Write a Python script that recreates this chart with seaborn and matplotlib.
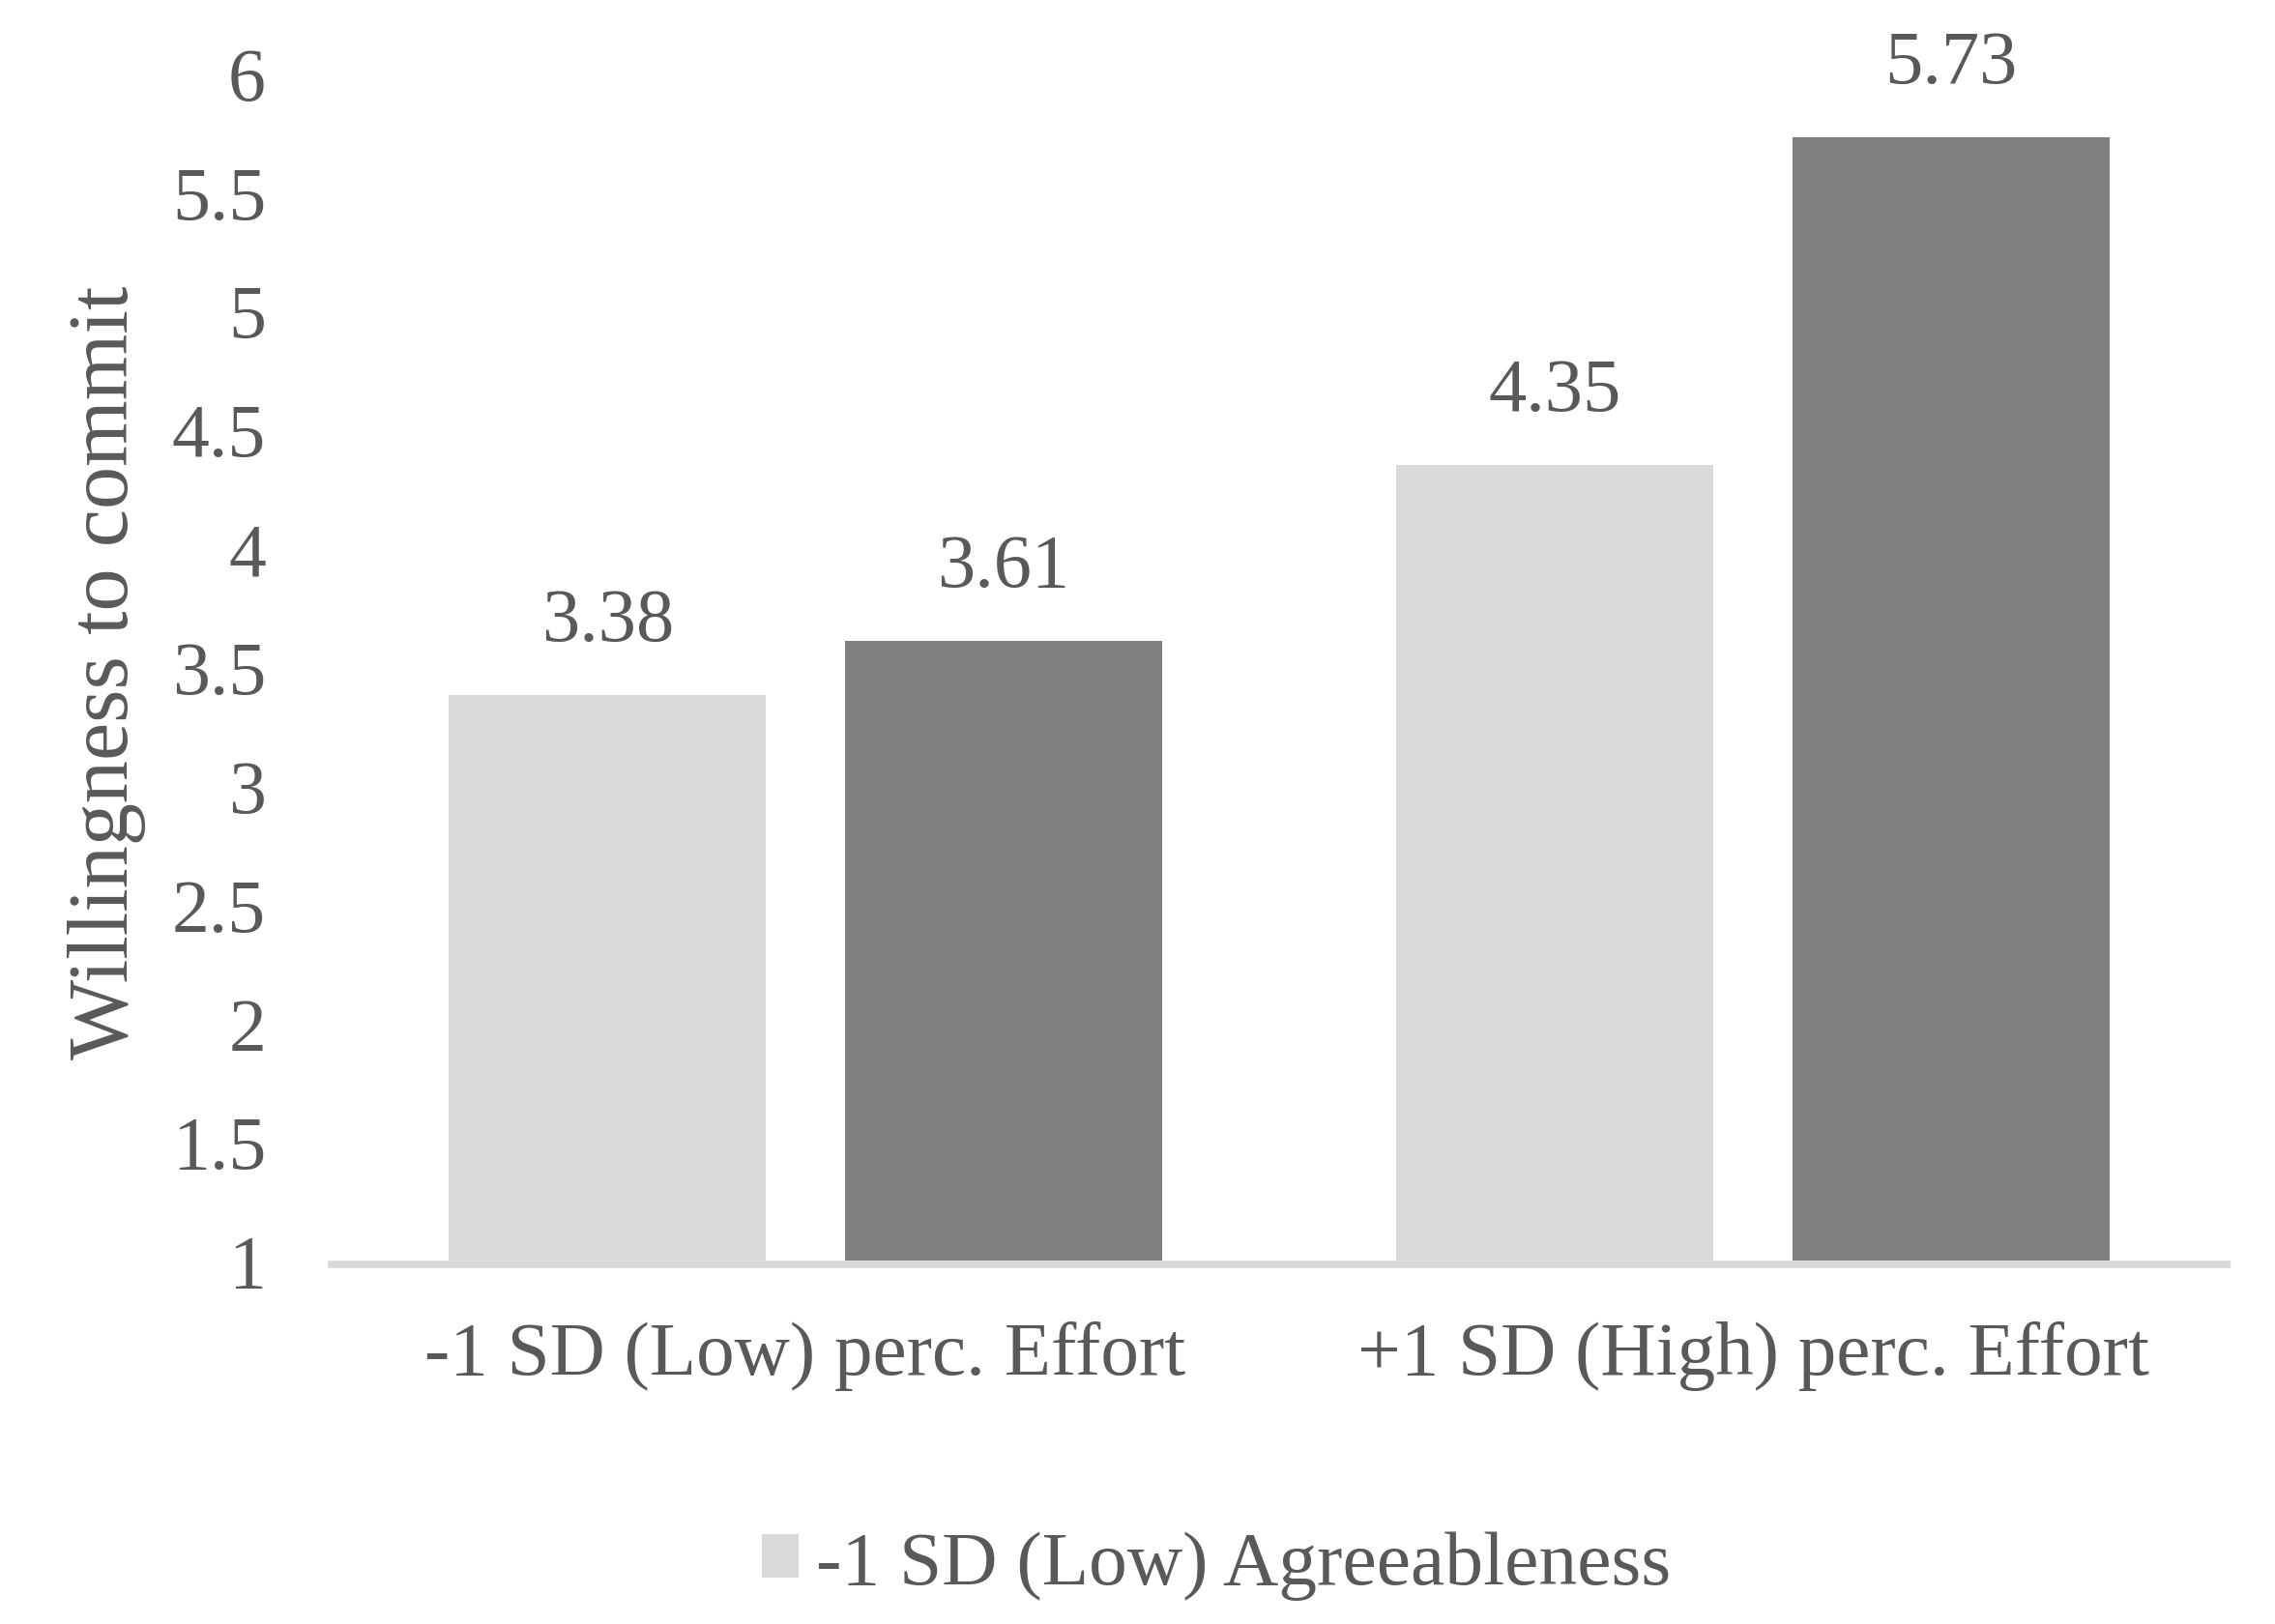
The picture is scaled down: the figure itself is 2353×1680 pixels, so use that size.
import pandas as pd
import seaborn as sns
import matplotlib.pyplot as plt

# ---------------------------------------------------------
# DADES
# ---------------------------------------------------------
CATEGORIES = ['-1 SD (Low) perc. Effort', '+1 SD (High) perc. Effort']
SERIES = ['-1 SD (Low) Agreeableness', '+1 SD (High) Agreeableness']
VALUES_LOW = [3.38, 4.35]
VALUES_HIGH = [3.61, 5.73]
Y_TICKS = [1, 1.5, 2, 2.5, 3, 3.5, 4, 4.5, 5, 5.5, 6]

C_LIGHT = '#d9d9d9'
C_DARK = '#7f7f7f'
C_TEXT = '#595959'

sns.set_style("white")
plt.rcParams['font.family'] = ['Liberation Serif', 'DejaVu Serif']

df = pd.DataFrame({
    'cat': CATEGORIES * 2,
    'serie': [SERIES[0]] * 2 + [SERIES[1]] * 2,
    'valor': VALUES_LOW + VALUES_HIGH,
})

fig = plt.figure(figsize=(23.53, 16.81), dpi=100)
ax = fig.add_axes([0.1458, 0.2237, 0.9788 - 0.1458, 0.9545 - 0.2237])

sns.barplot(data=df, x='cat', y='valor', hue='serie', order=CATEGORIES, hue_order=SERIES,
            palette=[C_LIGHT, C_DARK], width=0.836, gap=0.2, linewidth=0,
            legend=False, ax=ax)

# etiquetes de valor
for cont in ax.containers:
    for p in cont:
        h = p.get_height()
        ax.annotate(f"{h:.2f}", (p.get_x() + p.get_width() / 2, h),
                    xytext=(0, 41), textcoords='offset points',
                    ha='center', va='baseline', fontsize=56.5, color=C_TEXT,
                    annotation_clip=False)

ax.set_ylim(1, 6)
ax.set_yticks(Y_TICKS)
ax.set_yticklabels([f"{t:g}" for t in Y_TICKS])
ax.set_xlim(-0.5, 1.5)

for s in ['top', 'right', 'left']:
    ax.spines[s].set_visible(False)
ax.spines['bottom'].set_color(C_LIGHT)
ax.spines['bottom'].set_linewidth(5.5)
ax.spines['bottom'].set_position(('outward', 3))
ax.spines['bottom'].set_zorder(0)

ax.tick_params(axis='y', length=0, pad=49, labelsize=56, labelcolor=C_TEXT)
ax.tick_params(axis='x', length=0, pad=42, labelsize=57, labelcolor=C_TEXT)

ax.set_xlabel("")
ax.set_ylabel("Willingness to commit", fontsize=63.5, color=C_TEXT)
ax.yaxis.set_label_coords(-0.098, 0.496)

# llegenda (només la primera sèrie és visible)
fig.legend(handles=[ax.containers[0][0]], labels=[SERIES[0]],
           loc='lower left', bbox_to_anchor=(788 / 2353, 0.0149),
           frameon=False, fontsize=57.2, labelcolor=C_TEXT,
           handlelength=0.48, handleheight=0.5, handletextpad=0.23,
           borderpad=0, borderaxespad=0)

fig.savefig('out.png', dpi=100)
plt.close(fig)
